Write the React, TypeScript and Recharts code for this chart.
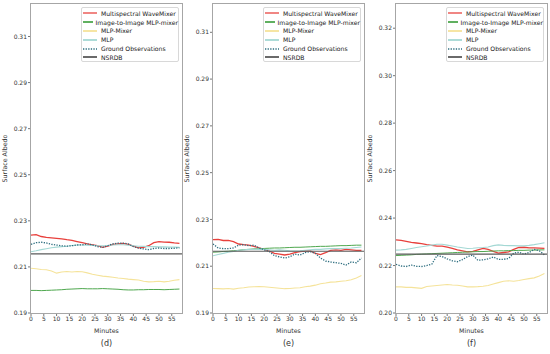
import React from 'react';
import { LineChart, Line, XAxis, YAxis, ReferenceLine } from 'recharts';

// minutes sampled every 2 min
const MINUTES = [0, 2, 4, 6, 8, 10, 12, 14, 16, 18, 20, 22, 24, 26, 28, 30, 32, 34, 36, 38, 40, 42, 44, 46, 48, 50, 52, 54, 56, 58];
const X_TICKS = [0, 5, 10, 15, 20, 25, 30, 35, 40, 45, 50, 55];

// panel (d)
const dWave = [0.2238, 0.224, 0.2232, 0.2228, 0.2226, 0.2224, 0.2222, 0.2218, 0.2215, 0.221, 0.2205, 0.22, 0.2196, 0.2192, 0.2185, 0.219, 0.2198, 0.22, 0.2202, 0.2198, 0.219, 0.2183, 0.2185, 0.2192, 0.2205, 0.221, 0.2208, 0.2207, 0.2204, 0.2202];
const dI2I = [0.1998, 0.1998, 0.1997, 0.1998, 0.1999, 0.2, 0.2001, 0.2003, 0.2004, 0.2005, 0.2006, 0.2005, 0.2005, 0.2005, 0.2006, 0.2005, 0.2004, 0.2003, 0.2001, 0.2, 0.2, 0.2001, 0.2001, 0.2002, 0.2002, 0.2002, 0.2001, 0.2002, 0.2003, 0.2004];
const dMixer = [0.2094, 0.2092, 0.2089, 0.2088, 0.2082, 0.2073, 0.2078, 0.208, 0.2078, 0.208, 0.2079, 0.2074, 0.2068, 0.2064, 0.206, 0.2058, 0.2055, 0.2052, 0.205, 0.2047, 0.2045, 0.2043, 0.2038, 0.2035, 0.2036, 0.2038, 0.2035, 0.2038, 0.2042, 0.2045];
const dMlp = [0.2166, 0.217, 0.2175, 0.2179, 0.2183, 0.2186, 0.2188, 0.219, 0.2193, 0.2195, 0.2195, 0.2194, 0.2193, 0.2192, 0.2192, 0.2193, 0.2195, 0.2196, 0.2196, 0.2194, 0.2192, 0.219, 0.2189, 0.2188, 0.2188, 0.2187, 0.2187, 0.2186, 0.2186, 0.2185];
const dGround = [0.2198, 0.2205, 0.2207, 0.2204, 0.2198, 0.2195, 0.2192, 0.219, 0.2192, 0.2195, 0.2196, 0.22, 0.2196, 0.2188, 0.2185, 0.2192, 0.22, 0.2203, 0.2203, 0.22, 0.2188, 0.2182, 0.2178, 0.2175, 0.218, 0.2182, 0.218, 0.218, 0.2181, 0.2183];
const dNsrdb = 0.2157;

// panel (e)
const eWave = [0.2214, 0.2215, 0.221, 0.221, 0.2205, 0.2195, 0.2192, 0.219, 0.2185, 0.2178, 0.2172, 0.2165, 0.2155, 0.2152, 0.2148, 0.2152, 0.2158, 0.2162, 0.2165, 0.2165, 0.2155, 0.215, 0.2158, 0.2168, 0.217, 0.2168, 0.2172, 0.217, 0.2168, 0.2168];
const eI2I = [0.216, 0.2161, 0.2163, 0.2164, 0.2166, 0.2168, 0.2171, 0.2172, 0.2174, 0.2175, 0.2176, 0.2177, 0.2178, 0.2178, 0.2179, 0.218, 0.2181, 0.2181, 0.2182, 0.2183, 0.2184, 0.2185, 0.2185, 0.2186, 0.2187, 0.2188, 0.2188, 0.2189, 0.219, 0.219];
const eMixer = [0.2005, 0.2004, 0.2003, 0.2005, 0.2002, 0.2006, 0.2008, 0.2011, 0.2012, 0.2013, 0.2012, 0.201, 0.2008, 0.2006, 0.2004, 0.2005, 0.2007, 0.2008, 0.2012, 0.2015, 0.2019, 0.2025, 0.2028, 0.2032, 0.2033, 0.2036, 0.2038, 0.2042, 0.205, 0.206];
const eMlp = [0.2145, 0.215, 0.2155, 0.216, 0.2163, 0.2168, 0.217, 0.2172, 0.2172, 0.2173, 0.2172, 0.217, 0.2168, 0.217, 0.2168, 0.2166, 0.2165, 0.2166, 0.2168, 0.217, 0.2172, 0.2172, 0.2174, 0.2175, 0.2175, 0.2176, 0.2177, 0.2178, 0.218, 0.2182];
const eGround = [0.2195, 0.2178, 0.2175, 0.2175, 0.2178, 0.219, 0.2192, 0.2188, 0.219, 0.2178, 0.217, 0.2163, 0.2145, 0.214, 0.2135, 0.214, 0.2152, 0.2148, 0.2158, 0.2162, 0.2155, 0.2135, 0.2122, 0.2118, 0.2115, 0.2112, 0.2105, 0.2118, 0.2115, 0.2135];
const eNsrdb = 0.2164;

// panel (f)
const fWave = [0.2308, 0.2306, 0.2302, 0.2298, 0.2295, 0.2292, 0.2288, 0.2285, 0.2282, 0.2282, 0.2278, 0.2272, 0.2266, 0.2262, 0.2258, 0.226, 0.2266, 0.2272, 0.2268, 0.226, 0.2252, 0.2255, 0.2258, 0.2268, 0.2276, 0.2277, 0.2274, 0.2274, 0.2273, 0.2272];
const fI2I = [0.2242, 0.2243, 0.2244, 0.2245, 0.2247, 0.2248, 0.2249, 0.225, 0.2251, 0.2252, 0.2253, 0.2254, 0.2255, 0.2256, 0.2257, 0.2258, 0.2259, 0.2259, 0.226, 0.2261, 0.2262, 0.2262, 0.2263, 0.2263, 0.2264, 0.2264, 0.2265, 0.2265, 0.2266, 0.2266];
const fMixer = [0.211, 0.211, 0.2108, 0.2108, 0.2106, 0.2104, 0.2112, 0.2114, 0.2116, 0.2118, 0.212, 0.2118, 0.2117, 0.2114, 0.211, 0.211, 0.2111, 0.2113, 0.2116, 0.2122, 0.2128, 0.2134, 0.2136, 0.2134, 0.2137, 0.2141, 0.2145, 0.2148, 0.2156, 0.2166];
const fMlp = [0.2265, 0.2266, 0.2268, 0.2272, 0.2276, 0.2279, 0.2282, 0.2286, 0.229, 0.229, 0.2286, 0.2282, 0.2278, 0.2275, 0.2272, 0.2273, 0.2275, 0.2276, 0.2278, 0.2284, 0.2287, 0.2285, 0.2284, 0.2284, 0.2283, 0.2283, 0.2285, 0.2288, 0.2292, 0.2296];
const fGround = [0.2205, 0.2198, 0.2196, 0.2202, 0.2197, 0.2196, 0.22, 0.2206, 0.2242, 0.2238, 0.2228, 0.222, 0.2216, 0.2225, 0.2238, 0.2244, 0.2222, 0.2224, 0.2228, 0.2236, 0.2226, 0.2226, 0.223, 0.2252, 0.2256, 0.2248, 0.2255, 0.2268, 0.2262, 0.2245];
const fNsrdb = 0.2248;

const TICKS_DE = [0.19, 0.21, 0.23, 0.25, 0.27, 0.29, 0.31];
const TICKS_F = [0.2, 0.22, 0.24, 0.26, 0.28, 0.3, 0.32];

const SERIES = [
  { key: 'wave', name: 'Multispectral WaveMixer', color: '#e8403c', width: 1.3 },
  { key: 'i2i', name: 'Image-to-Image MLP-mixer', color: '#4fa84f', width: 1 },
  { key: 'mixer', name: 'MLP-Mixer', color: '#f5e39a', width: 1.1 },
  { key: 'mlp', name: 'MLP', color: '#a4d8d4', width: 1.1 },
  { key: 'ground', name: 'Ground Observations', color: '#2f6f80', width: 1.3, dash: '1.3 1.3' },
];
const NSRDB_COLOR = '#5a5a5a';

const FONT = '"DejaVu Sans", sans-serif';

const buildRows = (wave: number[], i2i: number[], mixer: number[], mlp: number[], ground: number[]) =>
  MINUTES.map((m, i) => ({ m, wave: wave[i], i2i: i2i[i], mixer: mixer[i], mlp: mlp[i], ground: ground[i] }));

const LegendBox = ({ left }: { left: number }) => (
  <div
    style={{
      position: 'absolute',
      left,
      top: 7,
      width: 98,
      height: 55,
      boxSizing: 'border-box',
      border: '1px solid #d8d8d8',
      borderRadius: 2,
      background: 'rgba(255,255,255,0.85)',
      padding: '1px 0 0 1px',
      fontFamily: FONT,
      fontSize: 6.1,
      color: '#222',
    }}
  >
    {[...SERIES, { key: 'nsrdb', name: 'NSRDB', color: NSRDB_COLOR, width: 1.2 } as any].map((s) => (
      <div key={s.key} style={{ display: 'flex', alignItems: 'center', height: 8.8 }}>
        <svg width={15} height={4} style={{ marginRight: 3 }}>
          <line
            x1={0}
            y1={2}
            x2={14}
            y2={2}
            stroke={s.color}
            strokeWidth={s.dash ? 1.3 : 1.8}
            strokeDasharray={s.dash}
            opacity={s.key === 'wave' ? 0.7 : 1}
          />
        </svg>
        <span style={{ whiteSpace: 'nowrap' }}>{s.name}</span>
      </div>
    ))}
  </div>
);

interface PanelProps {
  left: number;
  rows: any[];
  domain: [number, number];
  yTicks: number[];
  nsrdb: number;
  caption: string;
}

const PLOT_TOP = 4;
const PLOT_BOTTOM = 313;
const Y_AXIS_W = 31;
const CHART_W = 185;

const Panel = ({ left, rows, domain, yTicks, nsrdb, caption }: PanelProps) => {
  const plotLeft = left + Y_AXIS_W;
  const plotRight = left + CHART_W - 3;
  return (
    <>
      <div style={{ position: 'absolute', left, top: 0 }}>
        <LineChart width={CHART_W} height={340} data={rows} margin={{ top: PLOT_TOP, right: 3, left: 0, bottom: 4 }}>
          <XAxis
            dataKey="m"
            type="number"
            domain={[0, 59]}
            ticks={X_TICKS}
            axisLine={false}
            tickLine={{ stroke: '#777' }}
            tickSize={3}
            tickMargin={1}
            height={23}
            interval={0}
            tick={{ fontSize: 6, fill: '#333', fontFamily: FONT }}
            label={{ value: 'Minutes', position: 'insideBottom', offset: 3, fontSize: 6.3, fill: '#333', fontFamily: FONT }}
          />
          <YAxis
            type="number"
            domain={domain}
            ticks={yTicks}
            allowDataOverflow
            width={Y_AXIS_W}
            axisLine={false}
            tickLine={{ stroke: '#777' }}
            tickSize={3}
            tickMargin={1}
            interval={0}
            tickFormatter={(v: number) => v.toFixed(2)}
            tick={{ fontSize: 6, fill: '#333', fontFamily: FONT }}
            label={{
              value: 'Surface Albedo',
              angle: -90,
              position: 'insideLeft',
              offset: 5,
              fontSize: 6.3,
              fill: '#333',
              fontFamily: FONT,
              style: { textAnchor: 'middle' },
            }}
          />
          {SERIES.map((s) => (
            <Line
              key={s.key}
              type="linear"
              dataKey={s.key}
              stroke={s.color}
              strokeWidth={s.width}
              strokeDasharray={s.dash}
              dot={false}
              isAnimationActive={false}
            />
          ))}
          <ReferenceLine y={nsrdb} stroke={NSRDB_COLOR} strokeWidth={1.2} />
        </LineChart>
      </div>
      <div
        style={{
          position: 'absolute',
          left: plotLeft - 0.75,
          top: PLOT_TOP - 0.75,
          width: plotRight - plotLeft + 1.5,
          height: PLOT_BOTTOM - PLOT_TOP + 1.5,
          boxSizing: 'border-box',
          border: '1.5px solid #a6a6a6',
          pointerEvents: 'none',
        }}
      />
      <LegendBox left={plotRight - 101} />
      <div
        style={{
          position: 'absolute',
          left: plotLeft,
          width: plotRight - plotLeft,
          top: 339,
          textAlign: 'center',
          fontFamily: FONT,
          fontSize: 8,
          color: '#333',
        }}
      >
        {caption}
      </div>
    </>
  );
};

export default function App() {
  return (
    <div style={{ position: 'absolute', left: 0, top: 0, width: 550, height: 354, background: '#fff', overflow: 'hidden' }}>
      <Panel left={0} rows={buildRows(dWave, dI2I, dMixer, dMlp, dGround)} domain={[0.19, 0.3241]} yTicks={TICKS_DE} nsrdb={dNsrdb} caption="(d)" />
      <Panel left={182} rows={buildRows(eWave, eI2I, eMixer, eMlp, eGround)} domain={[0.19, 0.3221]} yTicks={TICKS_DE} nsrdb={eNsrdb} caption="(e)" />
      <Panel left={365} rows={buildRows(fWave, fI2I, fMixer, fMlp, fGround)} domain={[0.2, 0.3302]} yTicks={TICKS_F} nsrdb={fNsrdb} caption="(f)" />
    </div>
  );
}
